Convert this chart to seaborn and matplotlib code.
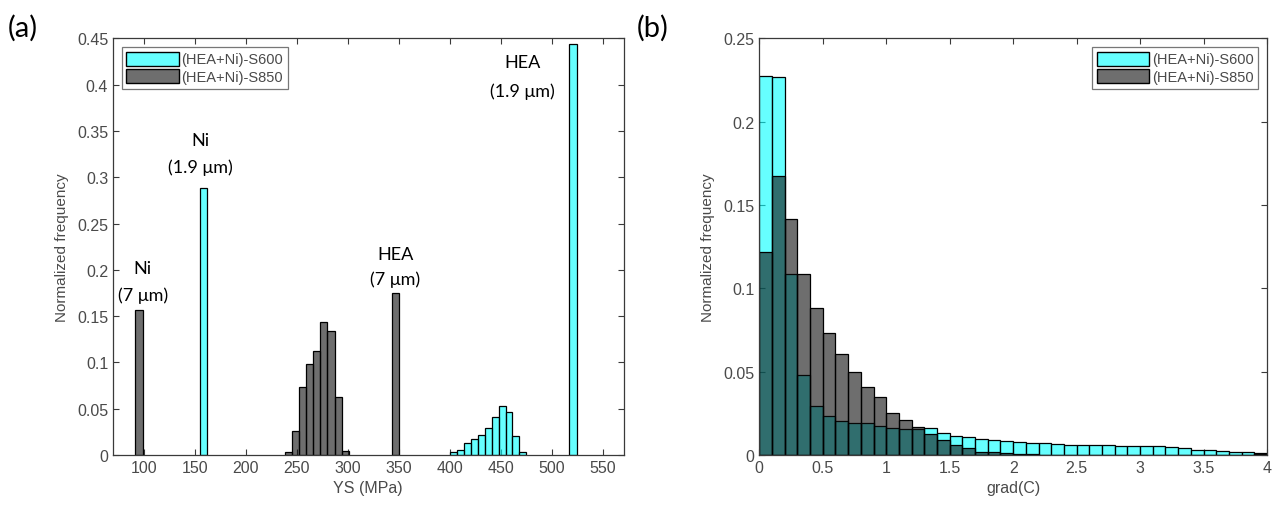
import numpy as np
import pandas as pd
import matplotlib
matplotlib.use("Agg")
import matplotlib.pyplot as plt
from matplotlib.patches import Patch
from matplotlib.ticker import FuncFormatter
import seaborn as sns

# ---------------- data ----------------
series_names = ["(HEA+Ni)-S600", "(HEA+Ni)-S850"]

# panel (a): yield strength histograms (bin left edge, bin width, normalized frequency)
s850_ys_left = [92, 238, 245, 252, 259, 266, 273, 280, 287, 294, 343]
s850_ys_width = [7, 7, 7, 7, 7, 7, 7, 7, 7, 7, 7]
s850_ys_freq = [0.157, 0.003, 0.0256, 0.073, 0.098, 0.1127, 0.1434, 0.1336, 0.063, 0.004, 0.1747]

s600_ys_left = [155.5, 400, 406.8, 413.6, 420.4, 427.2, 434, 440.8, 447.6, 454.4, 461.2, 468, 517]
s600_ys_width = [7, 6.8, 6.8, 6.8, 6.8, 6.8, 6.8, 6.8, 6.8, 6.8, 6.8, 6.8, 7]
s600_ys_freq = [0.288, 0.003, 0.0054, 0.013, 0.0173, 0.022, 0.029, 0.0414, 0.0526, 0.0468, 0.020, 0.0036, 0.444]

ys_labels = [("Ni", "(7 \u03bcm)", 99, 0.202, 0.173),
             ("Ni", "(1.9 \u03bcm)", 155.7, 0.340, 0.311),
             ("HEA", "(7 \u03bcm)", 346.5, 0.217, 0.190),
             ("HEA", "(1.9 \u03bcm)", 470.7, 0.4246, 0.393)]

# panel (b): grad(C) histograms, bins of 0.1 from 0 to 4
gradc_bin_left = [0.0, 0.1, 0.2, 0.3, 0.4, 0.5, 0.6, 0.7, 0.8, 0.9,
                  1.0, 1.1, 1.2, 1.3, 1.4, 1.5, 1.6, 1.7, 1.8, 1.9,
                  2.0, 2.1, 2.2, 2.3, 2.4, 2.5, 2.6, 2.7, 2.8, 2.9,
                  3.0, 3.1, 3.2, 3.3, 3.4, 3.5, 3.6, 3.7, 3.8, 3.9]
gradc_s600 = [0.2272, 0.2266, 0.1086, 0.048, 0.0296, 0.0236, 0.0206, 0.019, 0.019, 0.0176,
              0.0162, 0.0156, 0.0156, 0.0162, 0.0132, 0.0116, 0.0106, 0.0096, 0.009, 0.0082,
              0.0076, 0.0075, 0.0075, 0.0066, 0.006, 0.006, 0.006, 0.006, 0.0052, 0.0052,
              0.0052, 0.0052, 0.0046, 0.004, 0.003, 0.003, 0.0024, 0.0016, 0.0016, 0.001]
gradc_s850 = [0.122, 0.1676, 0.1416, 0.1086, 0.0882, 0.073, 0.0606, 0.0496, 0.0406, 0.0346,
              0.025, 0.021, 0.017, 0.0126, 0.009, 0.006, 0.004, 0.002, 0.0016, 0.001,
              0.0006, 0.0005, 0.0003, 0.0002, 0.0002, 0.0001, 0.0001, 0.0001, 0.0001, 0.0001,
              0.0001, 0.0001, 0.0001, 0.0001, 0.0001, 0.0001, 0.0001, 0.0001, 0.0001, 0.0008]
gradc_width = 0.1

# ---------------- style ----------------
sns.set_theme(style="white")
plt.rcParams["font.family"] = ["Liberation Sans", "DejaVu Sans"]
axis_col = "#3a3a3a"
text_col = "#4a4a4a"
c600 = (0.0, 1.0, 1.0)
c850 = (0.05, 0.05, 0.05)
face_alpha = 0.6

fig = plt.figure(figsize=(12.77, 5.10), dpi=100)
ax1 = fig.add_axes([113 / 1277, 1 - 456 / 510, (623.6 - 113) / 1277, (456 - 39.4) / 510])
ax2 = fig.add_axes([759.3 / 1277, 1 - 456 / 510, (1267 - 759.3) / 1277, (456 - 39.4) / 510])


def draw_hist(ax, lefts, widths, freqs, color):
    edges = sorted(set([l for l in lefts] + [l + w for l, w in zip(lefts, widths)]))
    centers = [l + w / 2 for l, w in zip(lefts, widths)]
    df = pd.DataFrame({"x": centers, "w": freqs})
    n_before = len(ax.patches)
    sns.histplot(data=df, x="x", weights="w", bins=edges, ax=ax, color=color,
                 alpha=face_alpha, edgecolor="black", linewidth=0.9, stat="count")
    # hide empty gap bins
    for p in ax.patches[n_before:]:
        if p.get_height() == 0:
            p.set_visible(False)


# panel (a)
draw_hist(ax1, s600_ys_left, s600_ys_width, s600_ys_freq, c600)
draw_hist(ax1, s850_ys_left, s850_ys_width, s850_ys_freq, c850)
ax1.set_xlim(70, 570)
ax1.set_ylim(0, 0.45)
ax1.set_xticks([100, 150, 200, 250, 300, 350, 400, 450, 500, 550])
ax1.set_yticks(np.arange(0, 0.451, 0.05))
ax1.set_xlabel("YS (MPa)", fontsize=11.5, color=text_col, labelpad=4)
ax1.set_ylabel("Normalized frequency", fontsize=11, color=text_col, labelpad=6)
for top, bottom, x, y1, y2 in ys_labels:
    ax1.text(x, y1, top, ha="center", va="center", fontsize=13, color="black",
             family=["Lato", "DejaVu Sans"])
    ax1.text(x, y2, bottom, ha="center", va="center", fontsize=13, color="black",
             family=["Lato", "DejaVu Sans"])

# panel (b)
draw_hist(ax2, gradc_bin_left, [gradc_width] * len(gradc_bin_left), gradc_s600, c600)
draw_hist(ax2, gradc_bin_left, [gradc_width] * len(gradc_bin_left), gradc_s850, c850)
ax2.set_xlim(0, 4)
ax2.set_ylim(0, 0.25)
ax2.set_xticks([0, 0.5, 1, 1.5, 2, 2.5, 3, 3.5, 4])
ax2.set_yticks([0, 0.05, 0.1, 0.15, 0.2, 0.25])
ax2.set_xlabel("grad(C)", fontsize=11.5, color=text_col, labelpad=4)
ax2.set_ylabel("Normalized frequency", fontsize=11, color=text_col, labelpad=6)

fmt = FuncFormatter(lambda v, p: ("%g" % round(v, 4)))
for ax in (ax1, ax2):
    ax.xaxis.set_major_formatter(fmt)
    ax.yaxis.set_major_formatter(fmt)
    for s in ax.spines.values():
        s.set_visible(True)
        s.set_color(axis_col)
        s.set_linewidth(0.9)
    ax.tick_params(direction="in", length=4, width=0.8, colors=axis_col,
                   labelcolor=text_col, labelsize=11.5, top=True, right=True,
                   bottom=True, left=True)
    handles = [Patch(facecolor=(*c600, face_alpha), edgecolor="black", linewidth=1.0),
               Patch(facecolor=(*c850, face_alpha), edgecolor="black", linewidth=1.0)]
    leg = ax.legend(handles, series_names, fontsize=10.5, frameon=True, fancybox=False,
                    handlelength=3.6, handleheight=1.1, handletextpad=0.2,
                    borderpad=0.3, labelspacing=0.2, borderaxespad=0.6,
                    loc="upper left" if ax is ax1 else "upper right")
    leg.get_frame().set_edgecolor("#555555")
    leg.get_frame().set_linewidth(0.9)
    for t in leg.get_texts():
        t.set_color(text_col)

fig.text(8 / 1277, 1 - 28 / 510, "(a)", fontsize=21, color="black", va="center", ha="left",
         family=["Lato", "DejaVu Sans"])
fig.text(637 / 1277, 1 - 28 / 510, "(b)", fontsize=21, color="black", va="center", ha="left",
         family=["Lato", "DejaVu Sans"])

fig.savefig("out.png", dpi=100)
